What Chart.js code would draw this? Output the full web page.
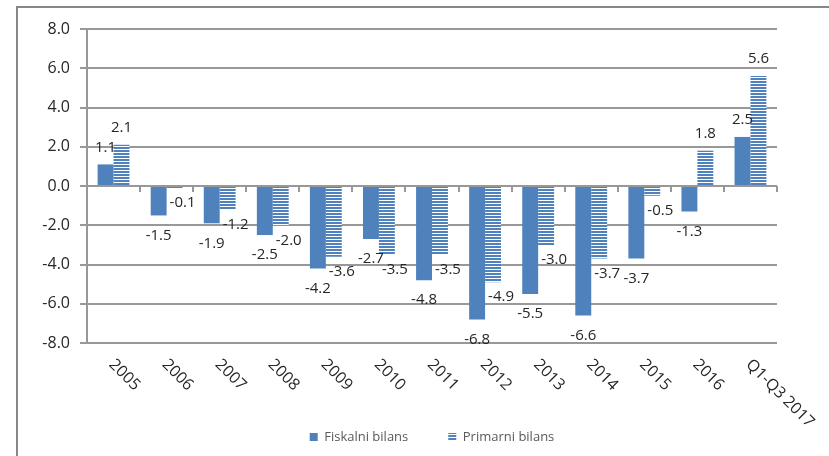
<!DOCTYPE html>
<html>
<head>
<meta charset="utf-8">
<script src="https://cdn.jsdelivr.net/npm/chart.js@4/dist/chart.umd.min.js"></script>
<style>
  html, body { margin: 0; padding: 0; background: #fff; overflow: hidden; }
  #wrap { position: relative; width: 829px; height: 456px; overflow: hidden; }
  #frame { position: absolute; left: 16px; top: 6px; width: 900px; height: 500px;
           border-top: 2px solid #878787; border-left: 2px solid #878787; box-sizing: border-box; }
  canvas { position: absolute; left: 0; top: 0; }
</style>
</head>
<body>
<div id="wrap">
  <div id="frame"></div>
  <canvas id="c" width="829" height="456"></canvas>
</div>
<script>
// Budget balance, % of GDP
const categories = ['2005', '2006', '2007', '2008', '2009', '2010', '2011', '2012', '2013', '2014', '2015', '2016', 'Q1-Q3 2017'];
const fiskalniBilans = [1.1, -1.5, -1.9, -2.5, -4.2, -2.7, -4.8, -6.8, -5.5, -6.6, -3.7, -1.3, 2.5];
const primarniBilans = [2.1, -0.1, -1.2, -2.0, -3.6, -3.5, -3.5, -4.9, -3.0, -3.7, -0.5, 1.8, 5.6];
const yTickValues = [-8, -6, -4, -2, 0, 2, 4, 6, 8];
const seriesNames = ['Fiskalni bilans', 'Primarni bilans'];

const BLUE = '#4F81BD';
const AXIS = '#989898';
const FONT = '"Open Sans", "Liberation Sans", sans-serif';

// horizontal stripe fill for the primary balance bars
function stripePattern() {
  const c = document.createElement('canvas');
  c.width = 4; c.height = 3;
  const g = c.getContext('2d');
  g.fillStyle = '#ffffff'; g.fillRect(0, 0, 4, 3);
  g.fillStyle = BLUE; g.fillRect(0, 0, 4, 2);
  return g.createPattern(c, 'repeat');
}

const decorations = {
  id: 'decorations',
  beforeDatasetsDraw(chart) {
    // short marks below the zero line at the category boundaries
    const ctx = chart.ctx, xs = chart.scales.x, ys = chart.scales.y;
    const y0 = ys.getPixelForValue(0);
    const half = (xs.right - xs.left) / categories.length / 2;
    ctx.save();
    ctx.strokeStyle = AXIS; ctx.lineWidth = 2;
    ctx.beginPath();
    for (let i = 0; i <= categories.length; i++) {
      const x = Math.round(i < categories.length ? xs.getPixelForValue(i) - half : xs.getPixelForValue(i - 1) + half);
      ctx.moveTo(x, y0); ctx.lineTo(x, y0 + 6);
    }
    ctx.stroke();
    ctx.restore();
  },
  afterDatasetsDraw(chart) {
    const ctx = chart.ctx;
    ctx.save();
    ctx.font = '15px ' + FONT;
    ctx.fillStyle = '#262626';
    ctx.textAlign = 'center';
    ctx.textBaseline = 'middle';
    chart.data.datasets.forEach((ds, di) => {
      const meta = chart.getDatasetMeta(di);
      meta.data.forEach((bar, i) => {
        const v = ds.data[i];
        let x = bar.x, y;
        if (v >= 0) {
          y = bar.y - 17;
        } else if (di === 0) {
          y = bar.y + 20;
        } else {
          y = bar.y + 15; x += 8;
        }
        ctx.fillText(v.toFixed(1), x, y);
      });
    });
    ctx.restore();
  },
  afterDraw(chart) {
    // slanted category labels under the plot
    const ctx = chart.ctx, xs = chart.scales.x, area = chart.chartArea;
    ctx.save();
    ctx.font = '16px ' + FONT;
    ctx.fillStyle = '#262626';
    ctx.textAlign = 'left';
    ctx.textBaseline = 'middle';
    categories.forEach((lab, i) => {
      const x = xs.getPixelForValue(i);
      ctx.save();
      ctx.translate(x - 2, area.bottom + 19);
      ctx.rotate(Math.PI / 4);
      ctx.fillText(lab, 0, 0);
      ctx.restore();
    });
    ctx.restore();
  }
};

new Chart(document.getElementById('c'), {
  type: 'bar',
  data: {
    labels: categories,
    datasets: [
      { label: seriesNames[0], data: fiskalniBilans, backgroundColor: BLUE, borderWidth: 0 },
      { label: seriesNames[1], data: primarniBilans, backgroundColor: stripePattern(), borderWidth: 0 }
    ]
  },
  options: {
    responsive: false,
    animation: false,
    events: [],
    categoryPercentage: 0.6,
    barPercentage: 1.0,
    layout: { padding: { top: 29, left: 0, right: 52, bottom: 2.5 } },
    scales: {
      x: {
        grid: { display: false, drawTicks: false },
        border: { display: false },
        ticks: { display: false },
        afterFit(scale) { scale.height = 47.5; }
      },
      y: {
        min: -8, max: 8,
        afterBuildTicks(scale) { scale.ticks = yTickValues.map(v => ({ value: v })); },
        afterFit(scale) { scale.width = 87; },
        grid: { color: AXIS, lineWidth: 2, tickLength: 7, drawTicks: true },
        border: { display: true, color: AXIS, width: 2 },
        ticks: {
          padding: 10,
          color: '#262626',
          font: { family: FONT, size: 16 },
          callback: v => Number(v).toFixed(1)
        }
      }
    },
    plugins: {
      tooltip: { enabled: false },
      legend: {
        position: 'bottom',
        fullSize: false,
        labels: {
          boxWidth: 8, boxHeight: 8, padding: 40,
          color: '#595959',
          font: { family: FONT, size: 13 }
        }
      }
    }
  },
  plugins: [decorations]
});
</script>
</body>
</html>
